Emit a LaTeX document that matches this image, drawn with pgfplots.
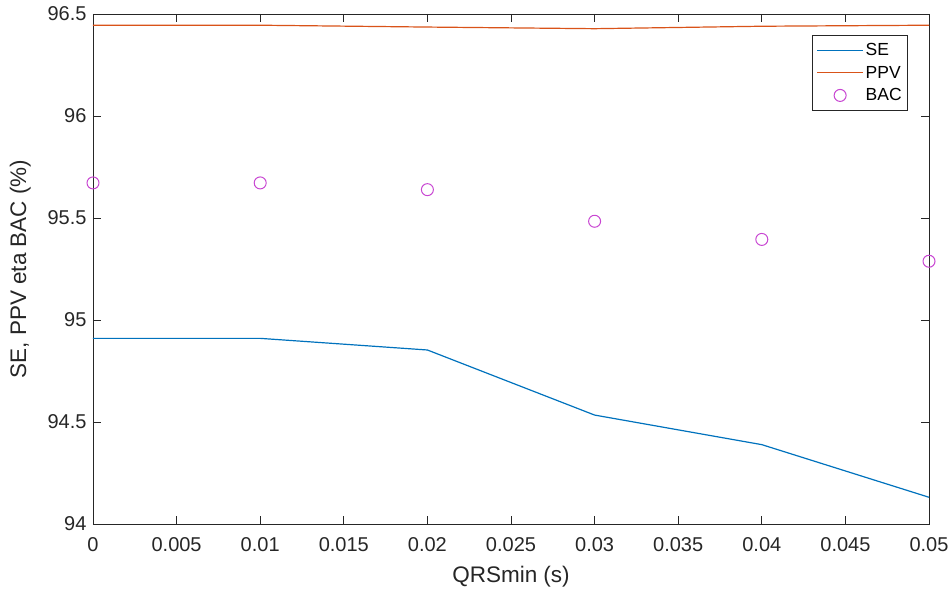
\documentclass[border=0pt]{standalone}
\usepackage{pgfplots}
\pgfplotsset{compat=1.18}
\usepackage{fontspec}
\setmainfont{Liberation Sans}
\definecolor{seblue}{rgb}{0.0,0.447,0.741}
\definecolor{pporange}{rgb}{0.85,0.325,0.098}
\definecolor{bacmag}{RGB}{200,70,210}
\definecolor{axgray}{RGB}{38,38,38}
\pgfplotsset{
  longline/.style={legend image code/.code={\draw[##1] (0cm,0cm) -- (46pt,0cm);}},
  bacleg/.style={legend image code/.code={\draw[##1] plot coordinates {(23pt,0cm)};}},
}
\begin{document}
\begin{tikzpicture}
\begin{axis}[
  scale only axis,
  width=836pt, height=510pt,
  xmin=0, xmax=0.05, ymin=94, ymax=96.5,
  xtick={0,0.005,0.01,0.015,0.02,0.025,0.03,0.035,0.04,0.045,0.05},
  xticklabels={0,0.005,0.01,0.015,0.02,0.025,0.03,0.035,0.04,0.045,0.05},
  ytick={94,94.5,95,95.5,96,96.5},
  yticklabels={94,94.5,95,95.5,96,96.5},
  scaled x ticks=false,
  tick align=inside,
  major tick length=8pt,
  axis line style={axgray, line width=0.8pt},
  every tick/.style={axgray, line width=0.8pt},
  tick label style={font=\fontsize{20}{23}\selectfont, text=axgray},
  xticklabel style={yshift=-10pt},
  yticklabel style={xshift=-3pt},
  label style={font=\fontsize{22.5}{26}\selectfont, text=axgray},
  xlabel={QRSmin (s)},
  ylabel={SE, PPV eta BAC (\%)},
  xlabel style={at={(axis description cs:0.5,-0.104)}, anchor=center},
  ylabel style={at={(axis description cs:-0.087,0.5)}, anchor=center},
  clip=false,
  legend style={at={(axis description cs:0.975,0.959)}, anchor=north east,
    draw=axgray, line width=0.8pt, font=\fontsize{17.5}{20}\selectfont,
    inner xsep=4pt, inner ysep=6pt, row sep=5pt},
  legend cell align=left,
]
\addplot[seblue, line width=1.2pt, mark=none, longline] coordinates {
 (0,94.910) (0.01,94.910) (0.02,94.853) (0.03,94.534) (0.04,94.389) (0.05,94.131)};
\addlegendentry{SE}
\addplot[pporange, line width=1.2pt, mark=none, longline] coordinates {
 (0,96.445) (0.01,96.445) (0.02,96.436) (0.03,96.428) (0.04,96.440) (0.05,96.445)};
\addlegendentry{PPV}
\addplot[only marks, mark=o, mark size=6pt, bacmag, line width=1pt, bacleg] coordinates {
 (0,95.672) (0.01,95.672) (0.02,95.639) (0.03,95.484) (0.04,95.395) (0.05,95.288)};
\addlegendentry{BAC}
\coordinate (O) at (rel axis cs:0,0);
\end{axis}
\pgfresetboundingbox
\path[use as bounding box] (O) ++(-93pt,-79pt) rectangle ++(952pt,603pt);
\end{tikzpicture}
\end{document}
